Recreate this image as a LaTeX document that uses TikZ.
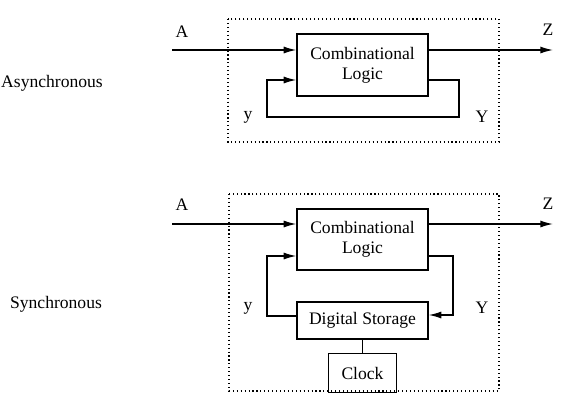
\documentclass[tikz,border=0pt]{standalone}
\usepackage{fontspec}
\setmainfont{Liberation Serif}
\usetikzlibrary{arrows.meta}

\begin{document}
\begin{tikzpicture}[x=0.025cm,y=-0.025cm,font=\fontsize{12.5}{14.5}\selectfont,
					block/.style={draw, line width=0.9pt, align=center, inner sep=0pt},
					wire/.style={line width=1pt},
					arr/.style={wire,-{Latex[length=9pt,width=5pt]}},
					frame/.style={line width=0.8pt, dash pattern=on 0.8pt off 2pt}]
    \useasboundingbox (0,0) rectangle (564,415);
    % Asynchronous
    \node (async) at (52,83){Asynchronous};
    \draw [frame] (228,19) rectangle (499,142);
    \node [block, minimum width=3.275cm, minimum height=1.55cm] (CL1) at (362.5,65){Combinational\\Logic};
    \coordinate (A1) at (172,50);
    \coordinate (Z1) at (553,50);
    \coordinate (R1) at (459,80);
    \coordinate (L1) at (267,80);
    \node (a1) at (182,32){A};
    \node (z1) at (548,30){Z};
    \node (y1) at (248,117){y};
    \node (Y1) at (482,117){Y};
    \draw [arr] (A1) -- (A1 -| CL1.west);
    \draw [arr] (Z1 -| CL1.east) -- (Z1);
    \draw [arr] (R1 -| CL1.east) -- (R1) -- ++(0,37) -| (L1) -- (L1 -| CL1.west);
    % Synchronous
    \node (sync) at (56,304){Synchronous};
    \draw [frame] (229,194) rectangle (499,391);
    \node [block, minimum width=3.275cm, minimum height=1.525cm] (CL2) at (362.5,239.5){Combinational\\Logic};
    \node [block, minimum width=3.275cm, minimum height=0.925cm] (DS) at (362.5,320.5){Digital Storage};
    \node [block, minimum width=1.7cm, minimum height=0.975cm] (Clk) at (362.5,373){Clock};
    \coordinate (A2) at (172,224);
    \coordinate (Z2) at (553,224);
    \coordinate (R2) at (453,256);
    \coordinate (L2) at (267,256);
    \node (a2) at (182,205){A};
    \node (z2) at (548,204){Z};
    \node (y2) at (248,308){y};
    \node (Y2) at (482,308){Y};
    \draw [arr] (A2) -- (A2 -| CL2.west);
    \draw [arr] (Z2 -| CL2.east) -- (Z2);
    \draw [arr] (R2 -| CL2.east) -- (R2) |- (DS.east |- 0,315);
    \draw [arr] (DS.west |- 0,316) -| (L2) -- (L2 -| CL2.west);
    \draw [wire] (DS) -- (Clk);
\end{tikzpicture}
\end{document}
